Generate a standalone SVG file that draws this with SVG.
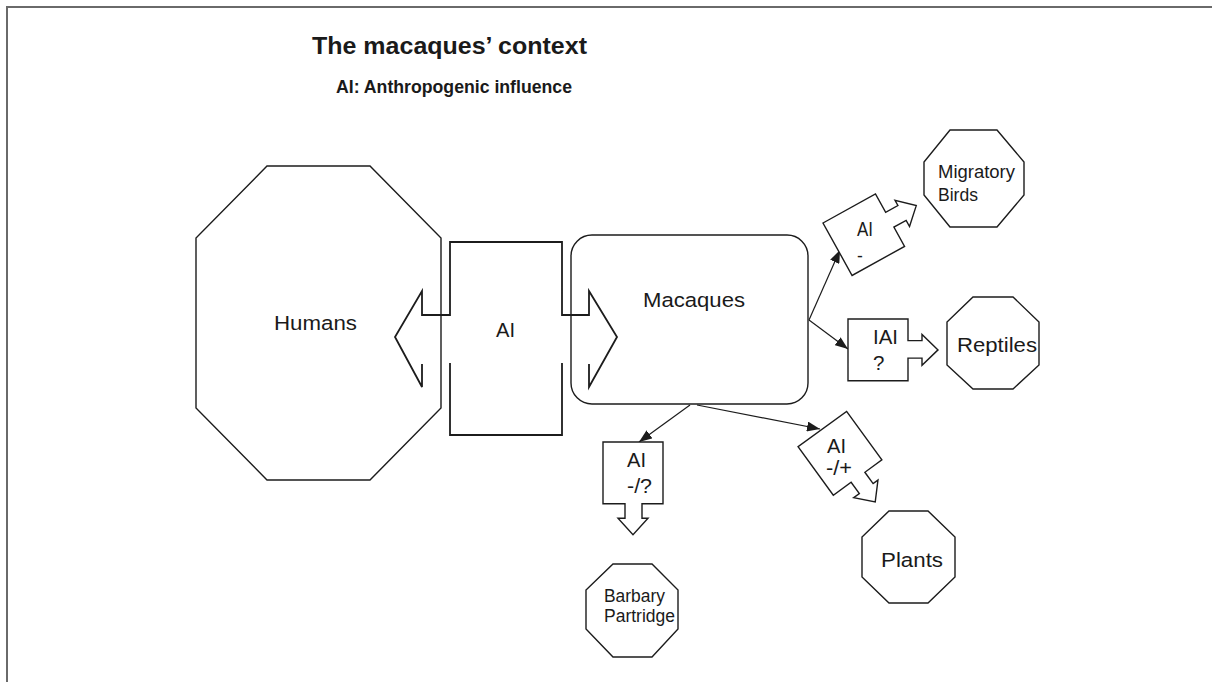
<svg xmlns="http://www.w3.org/2000/svg" xmlns:xlink="http://www.w3.org/1999/xlink" width="1212" height="682" viewBox="0 0 1212 682">
  <style>
    .frame { fill: none; stroke: #6a6a6a; stroke-width: 2; }
    .shape { fill: #ffffff; stroke: #1c1c1c; stroke-width: 1.4; }
    .open { fill: none; stroke: #1c1c1c; stroke-width: 1.8; }
    .link { fill: none; stroke: #1c1c1c; stroke-width: 1.2; }
    text { font-family: "Liberation Sans", Arial, sans-serif; fill: #1a1a1a; }
    .title { font-size: 24.5px; font-weight: bold; }
    .sub { font-size: 18px; font-weight: bold; }
    .lbl { font-size: 20.5px; }
    .sm { font-size: 17.5px; }
  </style>
  <defs>
    <marker id="ah" viewBox="0 0 13 10" refX="13" refY="5" markerWidth="13" markerHeight="10" markerUnits="userSpaceOnUse" orient="auto">
      <path d="M0,0 L13,5 L0,10 Z" fill="#1c1c1c"/>
    </marker>
    <!-- square influence box with a block arrow leaving its right side -->
    <path id="blk" d="M0,0 H60 V21 H74 V15 L90,30 L74,45 V38 H60 V60 H0 Z"/>
  </defs>

  <rect width="1212" height="682" fill="#ffffff"/>
  <path class="frame" d="M7,682 V7 H1212"/>

  <text class="title" x="312" y="54" textLength="275" lengthAdjust="spacingAndGlyphs">The macaques’ context</text>
  <text class="sub" x="336" y="93" textLength="236" lengthAdjust="spacingAndGlyphs">AI: Anthropogenic influence</text>

  <g id="humans">
    <polygon class="shape" points="267,166 370,166 441,238 441,408 370,480 267,480 196,408 196,238"/>
    <text class="lbl" x="274" y="329.5" textLength="83" lengthAdjust="spacingAndGlyphs">Humans</text>
  </g>

  <g id="macaques">
    <rect class="shape" x="571" y="235" width="237" height="169" rx="21"/>
    <text class="lbl" x="643" y="307" textLength="102" lengthAdjust="spacingAndGlyphs">Macaques</text>
  </g>

  <g id="migratory-birds">
    <polygon class="shape" points="950,130 997,130 1024,162 1024,195 997,227 950,227 924,195 924,162"/>
    <text class="sm" x="938" y="178" textLength="77" lengthAdjust="spacingAndGlyphs">Migratory</text>
    <text class="sm" x="938" y="201" textLength="40" lengthAdjust="spacingAndGlyphs">Birds</text>
  </g>

  <g id="reptiles">
    <polygon class="shape" points="973,297 1013,297 1039,322 1039,365 1013,389 973,389 947,365 947,322"/>
    <text class="lbl" x="957" y="352" textLength="80" lengthAdjust="spacingAndGlyphs">Reptiles</text>
  </g>

  <g id="plants">
    <polygon class="shape" points="889,511 928,511 955,537 955,577 928,603 889,603 862,577 862,537"/>
    <text class="lbl" x="881" y="567" textLength="62" lengthAdjust="spacingAndGlyphs">Plants</text>
  </g>

  <g id="barbary-partridge">
    <polygon class="shape" points="613,564 652,564 678,590 678,629 652,657 613,657 586,629 586,590"/>
    <text class="sm" x="604" y="602" textLength="61" lengthAdjust="spacingAndGlyphs">Barbary</text>
    <text class="sm" x="604" y="622" textLength="71" lengthAdjust="spacingAndGlyphs">Partridge</text>
  </g>

  <g id="connectors">
    <line class="link" x1="809" y1="320" x2="840" y2="250" marker-end="url(#ah)"/>
    <line class="link" x1="809" y1="320" x2="848" y2="349" marker-end="url(#ah)"/>
    <line class="link" x1="690" y1="405" x2="639" y2="442" marker-end="url(#ah)"/>
    <line class="link" x1="697" y1="405" x2="820" y2="429" marker-end="url(#ah)"/>
  </g>

  <!-- two-way influence between humans and macaques -->
  <g id="ai-main">
    <path class="open" d="M422,364 V387 L395,337 L422,291 V315 H450 V242 H562 V315 H589 V291 L617,337 L589,387 V364"/>
    <path class="open" d="M450,363 V435 H562 V363"/>
    <text class="lbl" x="496" y="337" textLength="19" lengthAdjust="spacingAndGlyphs">AI</text>
  </g>

  <g id="ai-birds">
    <use href="#blk" xlink:href="#blk" class="shape" transform="translate(823,223) rotate(-29)"/>
    <text class="lbl" x="857" y="236" textLength="16" lengthAdjust="spacingAndGlyphs">AI</text>
    <text class="sm" x="857" y="262">-</text>
  </g>

  <g id="iai-reptiles">
    <use href="#blk" xlink:href="#blk" class="shape" transform="translate(848,319) scale(1,1.03)"/>
    <text class="lbl" x="873" y="344" textLength="25" lengthAdjust="spacingAndGlyphs">IAI</text>
    <text class="lbl" x="873" y="370">?</text>
  </g>

  <g id="ai-plants">
    <use href="#blk" xlink:href="#blk" class="shape" transform="translate(846.6,411.4) rotate(54)"/>
    <text class="lbl" x="827" y="453" textLength="19" lengthAdjust="spacingAndGlyphs">AI</text>
    <text class="lbl" x="826" y="475" textLength="26" lengthAdjust="spacingAndGlyphs">-/+</text>
  </g>

  <g id="ai-partridge">
    <use href="#blk" xlink:href="#blk" class="shape" transform="translate(663,442) rotate(90) scale(1.03,1)"/>
    <text class="lbl" x="627" y="467" textLength="19" lengthAdjust="spacingAndGlyphs">AI</text>
    <text class="lbl" x="627" y="493" textLength="25" lengthAdjust="spacingAndGlyphs">-/?</text>
  </g>
</svg>
